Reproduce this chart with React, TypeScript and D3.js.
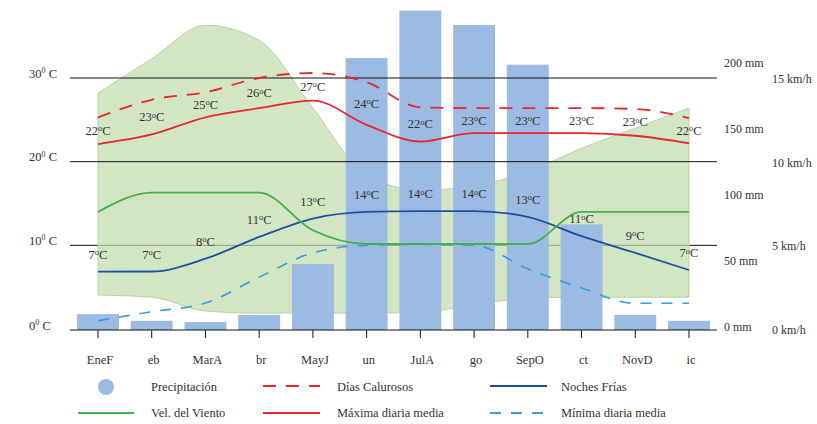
import React from "react";
import * as d3 from "d3";

const months = ["EneF", "eb", "MarA", "br", "MayJ", "un", "JulA", "go", "SepO", "ct", "NovD", "ic"];
const precipitation = [12, 7, 6, 11.4, 50, 206, 242, 231, 201, 80, 11.4, 7];
const hotDays = [25.3, 27.4, 28.3, 30.0, 30.6, 29.5, 26.5, 26.4, 26.4, 26.4, 26.3, 25.2];
const maxMean = [22.1, 23.25, 25.3, 26.4, 27.3, 24.4, 22.4, 23.4, 23.4, 23.4, 23.1, 22.2];
const coldNights = [6.85, 6.87, 8.4, 11.0, 13.2, 14.0, 14.1, 14.1, 13.4, 11.1, 9.1, 7.05];
const minMean = [0.99, 2.07, 3.1, 6.2, 9.1, 10.0, 10.1, 10.0, 7.2, 4.9, 3.07, 3.07];
const wind = [7.0, 8.15, 8.15, 8.15, 5.9, 5.08, 5.08, 5.08, 5.08, 7.0, 7.0, 7.0];
const bandTop = [28.2, 32.3, 36.3, 34.5, 26.4, 18.4, 16.6, 17.1, 18.8, 21.6, 24.0, 26.4];
const bandBottom = [4.06, 3.8, 2.15, 1.9, 1.9, 1.9, 2.0, 2.9, 3.7, 3.8, 3.8, 3.8];
const topLabels = [22, 23, 25, 26, 27, 24, 22, 23, 23, 23, 23, 22];
const bottomLabels = [7, 7, 8, 11, 13, 14, 14, 14, 13, 11, 9, 7];
const tempTicks = [0, 10, 20, 30];
const mmTicks = [0, 50, 100, 150, 200];
const kmhTicks = [0, 5, 10, 15];

const FONT = "'Liberation Serif', 'DejaVu Serif', serif";
const TXT = "#333";
const RED = "#e8262d";
const GREEN = "#45b04c";
const DBLUE = "#1f4fa0";
const LBLUE = "#3d9be0";
const BAR = "#9cbbe2";

export default function App() {
  const W = 817, H = 424;
  const x = d3.scalePoint<string>().domain(months).range([98, 689]);
  const step = x.step();
  const barW = step * 0.78;
  const yT = d3.scaleLinear().domain([0, 30]).range([329, 78]);
  const yMM = d3.scaleLinear().domain([0, 200]).range([330, 66]);
  const yK = d3.scaleLinear().domain([0, 15]).range([329, 78]);
  const gridX0 = 70, gridX1 = 717;

  const lineT = (vals: number[]) =>
    d3.line<number>().x((_, i) => x(months[i])!).y((d) => yT(d)).curve(d3.curveMonotoneX)(vals) || "";
  const lineK = d3.line<number>().x((_, i) => x(months[i])!).y((d) => yK(d)).curve(d3.curveMonotoneX)(wind) || "";
  const area = d3.area<number>()
    .x((_, i) => x(months[i])!)
    .y0((_, i) => yT(bandBottom[i]))
    .y1((_, i) => yT(bandTop[i]))
    .curve(d3.curveMonotoneX)(bandTop) || "";

  const degLabel = (v: number) => (
    <>
      {v}
      <tspan fontSize={8.5} dy={-2.5}>o</tspan>
      <tspan dy={2.5}>C</tspan>
    </>
  );

  return (
    <svg width={W} height={H} style={{ position: "absolute", left: 0, top: 0, background: "#fff" }} fontFamily={FONT}>
      {/* 10 C gridline below the band */}
      <line x1={gridX0} x2={gridX1} y1={yT(10)} y2={yT(10)} stroke="#111" strokeWidth={1} />
      {/* green band */}
      <path d={area} fill="#c2ddad" fillOpacity={0.72} stroke="#b3d69f" strokeWidth={1} />
      {/* bars */}
      {precipitation.map((v, i) => (
        <rect key={i} x={x(months[i])! - barW / 2} y={yMM(v)} width={barW} height={yMM(0) - yMM(v)} fill={BAR} />
      ))}
      {/* gridlines */}
      {tempTicks.filter((t) => t !== 10).map((t) => (
        <line key={t} x1={gridX0} x2={gridX1} y1={t === 0 ? yMM(0) : yT(t)} y2={t === 0 ? yMM(0) : yT(t)} stroke="#111" strokeWidth={1} />
      ))}
      {/* ticks */}
      {months.map((m) => (
        <line key={m} x1={x(m)!} x2={x(m)!} y1={yMM(0)} y2={yMM(0) + 8} stroke="#111" strokeWidth={1} />
      ))}
      {/* left axis labels */}
      {tempTicks.map((t) => (
        <text key={t} x={29} y={(t === 0 ? yMM(0) : yT(t)) - 0.5} fontSize={12.5} fill={TXT}>
          {t}
          <tspan fontSize={8} dy={-4.5}>0</tspan>
          <tspan dy={4.5}> C</tspan>
        </text>
      ))}
      {/* right mm labels */}
      {mmTicks.map((t) => (
        <text key={t} x={724} y={yMM(t) + 1} fontSize={12} fill={TXT}>{t} mm</text>
      ))}
      {/* right km/h labels */}
      {kmhTicks.map((t) => (
        <text key={t} x={772} y={yK(t) + 1} fontSize={12} fill={TXT} dominantBaseline="central">{t} km/h</text>
      ))}
      {/* lines */}
      <path d={lineT(minMean)} fill="none" stroke={LBLUE} strokeWidth={1.6} strokeDasharray="11,10" />
      <path d={lineT(hotDays)} fill="none" stroke={RED} strokeWidth={1.8} strokeDasharray="13,10" />
      <path d={lineT(maxMean)} fill="none" stroke={RED} strokeWidth={1.8} />
      <path d={lineT(coldNights)} fill="none" stroke={DBLUE} strokeWidth={1.8} />
      <path d={lineK} fill="none" stroke={GREEN} strokeWidth={1.8} />
      {/* value labels */}
      {topLabels.map((v, i) => (
        <text key={"t" + i} x={x(months[i])!} y={(yT(hotDays[i]) + yT(maxMean[i])) / 2} fontSize={12.5} fill={TXT}
          textAnchor="middle" dominantBaseline="central">{degLabel(v)}</text>
      ))}
      {bottomLabels.map((v, i) => (
        <text key={"b" + i} x={x(months[i])!} y={yT(coldNights[i]) - 17} fontSize={12.5} fill={TXT}
          textAnchor="middle" dominantBaseline="central">{degLabel(v)}</text>
      ))}
      {/* month labels */}
      {months.map((m) => (
        <text key={m} x={x(m)! + 2} y={364} fontSize={12.5} fill={TXT} textAnchor="middle">{m}</text>
      ))}
      {/* legend */}
      <g fontSize={12.5} fill={TXT}>
        <circle cx={106} cy={387} r={8} fill={BAR} />
        <text x={151} y={391}>Precipitación</text>
        <line x1={263} x2={320} y1={386} y2={386} stroke={RED} strokeWidth={1.8} strokeDasharray="13,10" />
        <text x={337} y={391}>Días Calurosos</text>
        <line x1={490} x2={547} y1={386} y2={386} stroke={DBLUE} strokeWidth={2} />
        <text x={561} y={391}>Noches Frías</text>
        <line x1={78} x2={134} y1={413} y2={413} stroke={GREEN} strokeWidth={2} />
        <text x={151} y={417}>Vel. del Viento</text>
        <line x1={263} x2={320} y1={413} y2={413} stroke={RED} strokeWidth={2} />
        <text x={337} y={417}>Máxima diaria media</text>
        <line x1={490} x2={547} y1={413} y2={413} stroke={LBLUE} strokeWidth={2} strokeDasharray="11,10" />
        <text x={561} y={417}>Mínima diaria media</text>
      </g>
    </svg>
  );
}
